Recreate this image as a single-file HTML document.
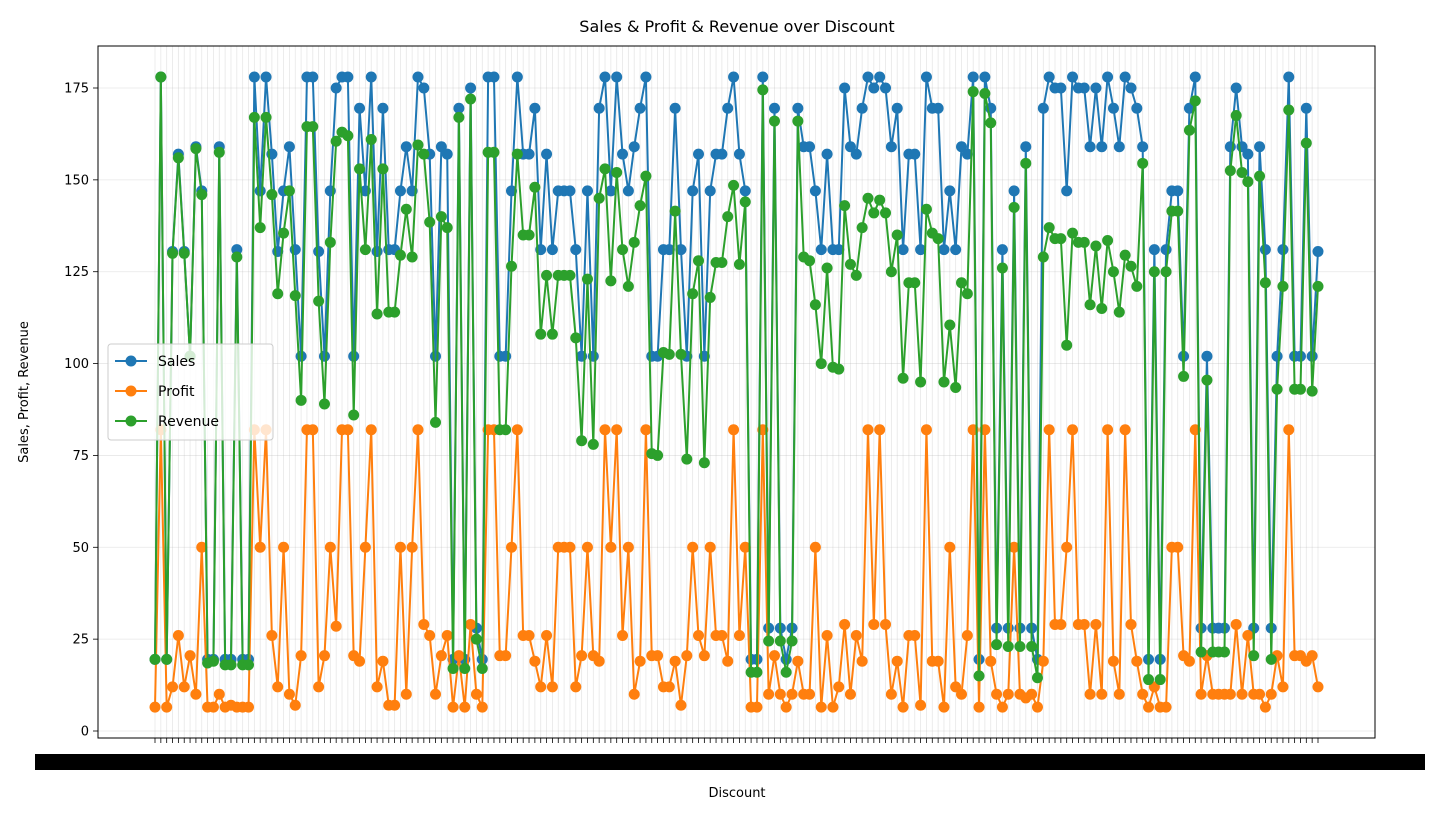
<!DOCTYPE html>
<html><head><meta charset="utf-8"><style>
html,body{margin:0;padding:0;background:#fff;}
svg{display:block;font-family:"DejaVu Sans","Liberation Sans",sans-serif;}
</style></head><body>
<svg id="chart" width="1442" height="817" viewBox="0 0 1442 817" xmlns="http://www.w3.org/2000/svg">
<rect x="0" y="0" width="1442" height="817" fill="#fff"/>
<text x="737" y="32" font-size="16" text-anchor="middle" fill="#000">Sales &amp; Profit &amp; Revenue over Discount</text>
<text x="0" y="0" font-size="13" text-anchor="middle" transform="translate(28,392) rotate(-90)">Sales, Profit, Revenue</text>
<text x="737" y="797" font-size="13" text-anchor="middle">Discount</text>
<g id="grid"></g><g id="yaxis"></g><g id="xaxis"></g><g id="series"></g>
<rect x="98" y="46" width="1277" height="692" fill="none" stroke="#000" stroke-width="1"/>
<g id="legend">
<rect x="108" y="344" width="165" height="96" fill="#fff" fill-opacity="0.8" stroke="#ccc" rx="3"/>
<g><line x1="115" y1="361" x2="147" y2="361" stroke="#1f77b4" stroke-width="2"/><circle cx="131" cy="361" r="5.5" fill="#1f77b4"/><text x="158" y="366" font-size="14">Sales</text></g>
<g><line x1="115" y1="391" x2="147" y2="391" stroke="#ff7f0e" stroke-width="2"/><circle cx="131" cy="391" r="5.5" fill="#ff7f0e"/><text x="158" y="396" font-size="14">Profit</text></g>
<g><line x1="115" y1="421" x2="147" y2="421" stroke="#2ca02c" stroke-width="2"/><circle cx="131" cy="421" r="5.5" fill="#2ca02c"/><text x="158" y="426" font-size="14">Revenue</text></g>
</g>
</svg>
<script>
const sales=[19.5,178,19.5,130.5,157,130.5,102,159,147,19.5,19.5,159,19.5,19.5,131,19.5,19.5,178,147,178,157,130.5,147,159,131,102,178,178,130.5,102,147,175,178,178,102,169.5,147,178,130.5,169.5,131,131,147,159,147,178,175,157,102,159,157,19.5,169.5,19.5,175,28,19.5,178,178,102,102,147,178,157,157,169.5,131,157,131,147,147,147,131,102,147,102,169.5,178,147,178,157,147,159,169.5,178,102,102,131,131,169.5,131,102,147,157,102,147,157,157,169.5,178,157,147,19.5,19.5,178,28,169.5,28,19.5,28,169.5,159,159,147,131,157,131,131,175,159,157,169.5,178,175,178,175,159,169.5,131,157,157,131,178,169.5,169.5,131,147,131,159,157,178,19.5,178,169.5,28,131,28,147,28,159,28,19.5,169.5,178,175,175,147,178,175,175,159,175,159,178,169.5,159,178,175,169.5,159,19.5,131,19.5,131,147,147,102,169.5,178,28,102,28,28,28,159,175,159,157,28,159,131,28,102,131,178,102,102,169.5,102,130.5];
const profit=[6.5,82,6.5,12,26,12,20.5,10,50,6.5,6.5,10,6.5,7,6.5,6.5,6.5,82,50,82,26,12,50,10,7,20.5,82,82,12,20.5,50,28.5,82,82,20.5,19,50,82,12,19,7,7,50,10,50,82,29,26,10,20.5,26,6.5,20.5,6.5,29,10,6.5,82,82,20.5,20.5,50,82,26,26,19,12,26,12,50,50,50,12,20.5,50,20.5,19,82,50,82,26,50,10,19,82,20.5,20.5,12,12,19,7,20.5,50,26,20.5,50,26,26,19,82,26,50,6.5,6.5,82,10,20.5,10,6.5,10,19,10,10,50,6.5,26,6.5,12,29,10,26,19,82,29,82,29,10,19,6.5,26,26,7,82,19,19,6.5,50,12,10,26,82,6.5,82,19,10,6.5,10,50,10,9,10,6.5,19,82,29,29,50,82,29,29,10,29,10,82,19,10,82,29,19,10,6.5,12,6.5,6.5,50,50,20.5,19,82,10,20.5,10,10,10,10,29,10,26,10,10,6.5,10,20.5,12,82,20.5,20.5,19,20.5,12];
const revenue=[19.5,178,19.5,130,156,130,102,158.5,146,18.5,19,157.5,18,18,129,18,18,167,137,167,146,119,135.5,147,118.5,90,164.5,164.5,117,89,133,160.5,163,162,86,153,131,161,113.5,153,114,114,129.5,142,129,159.5,157,138.5,84,140,137,17,167,17,172,25,17,157.5,157.5,82,82,126.5,157,135,135,148,108,124,108,124,124,124,107,79,123,78,145,153,122.5,152,131,121,133,143,151,75.5,75,103,102.5,141.5,102.5,74,119,128,73,118,127.5,127.5,140,148.5,127,144,16,16,174.5,24.5,166,24.5,16,24.5,166,129,128,116,100,126,99,98.5,143,127,124,137,145,141,144.5,141,125,135,96,122,122,95,142,135.5,134,95,110.5,93.5,122,119,174,15,173.5,165.5,23.5,126,23,142.5,23,154.5,23,14.5,129,137,134,134,105,135.5,133,133,116,132,115,133.5,125,114,129.5,126.5,121,154.5,14,125,14,125,141.5,141.5,96.5,163.5,171.5,21.5,95.5,21.5,21.5,21.5,152.5,167.5,152,149.5,20.5,151,122,19.5,93,121,169,93,93,160,92.5,121];
const discountSteps=["0.0","0.05","0.1","0.15","0.2","0.25","0.3","0.35","0.4","0.45","0.5"];
const yTicks=[0,25,50,75,100,125,150,175];

const NS="http://www.w3.org/2000/svg";
const X0=155,X1=1318,Y0=731,Y175=88;
const n=sales.length;
function xs(i){return X0+(X1-X0)*i/(n-1);}
function ys(v){return Y0+(Y175-Y0)*v/175;}
function mk(tag,attrs,parent){const e=document.createElementNS(NS,tag);for(const k in attrs)e.setAttribute(k,attrs[k]);parent.appendChild(e);return e;}
const grid=document.getElementById('grid'),yax=document.getElementById('yaxis'),xax=document.getElementById('xaxis'),ser=document.getElementById('series');
for(let i=0;i<n;i++){
  const gl=mk('line',{x1:xs(i),x2:xs(i),y1:46,y2:738,stroke:'#b0b0b0','stroke-opacity':0.3,'stroke-width':0.8},grid);
  
  
  const tk=mk('line',{x1:xs(i),x2:xs(i),y1:738,y2:743,stroke:'#000','stroke-width':0.8},xax);
  
  
}
const band=mk('rect',{x:35,y:754,width:1390,height:16,fill:'#000'},xax);


for(let i=0;i<n;i++){
  const t=mk('text',{x:xs(i),y:768,'font-size':12,'text-anchor':'middle',fill:'#000'},xax);
  t.textContent=discountSteps[i%discountSteps.length]+(i%7);
  
  
}
yTicks.forEach(v=>{
  const g=mk('line',{x1:98,x2:1375,y1:ys(v),y2:ys(v),stroke:'#b0b0b0','stroke-opacity':0.3,'stroke-width':0.8},grid);
  
  
  const tk=mk('line',{x1:93,x2:98,y1:ys(v),y2:ys(v),stroke:'#000','stroke-width':0.8},yax);
  
  
  const t=mk('text',{x:89,y:ys(v)+4.5,'font-size':13,'text-anchor':'end'},yax);
  t.textContent=String(v);
  
  
});
function drawSeries(arr,color,name){
  const g=mk('g',{},ser);
  
  
  const pts=arr.map((v,i)=>xs(i).toFixed(2)+','+ys(v).toFixed(2)).join(' ');
  const pl=mk('polyline',{points:pts,fill:'none',stroke:color,'stroke-width':2,'stroke-linejoin':'round'},g);
  
  
  arr.forEach((v,i)=>{
    const c=mk('circle',{cx:xs(i),cy:ys(v),r:5.5,fill:color},g);
    
    
  });
}
drawSeries(sales,'#1f77b4','sales');
drawSeries(profit,'#ff7f0e','profit');
drawSeries(revenue,'#2ca02c','revenue');
</script>
</body></html>
